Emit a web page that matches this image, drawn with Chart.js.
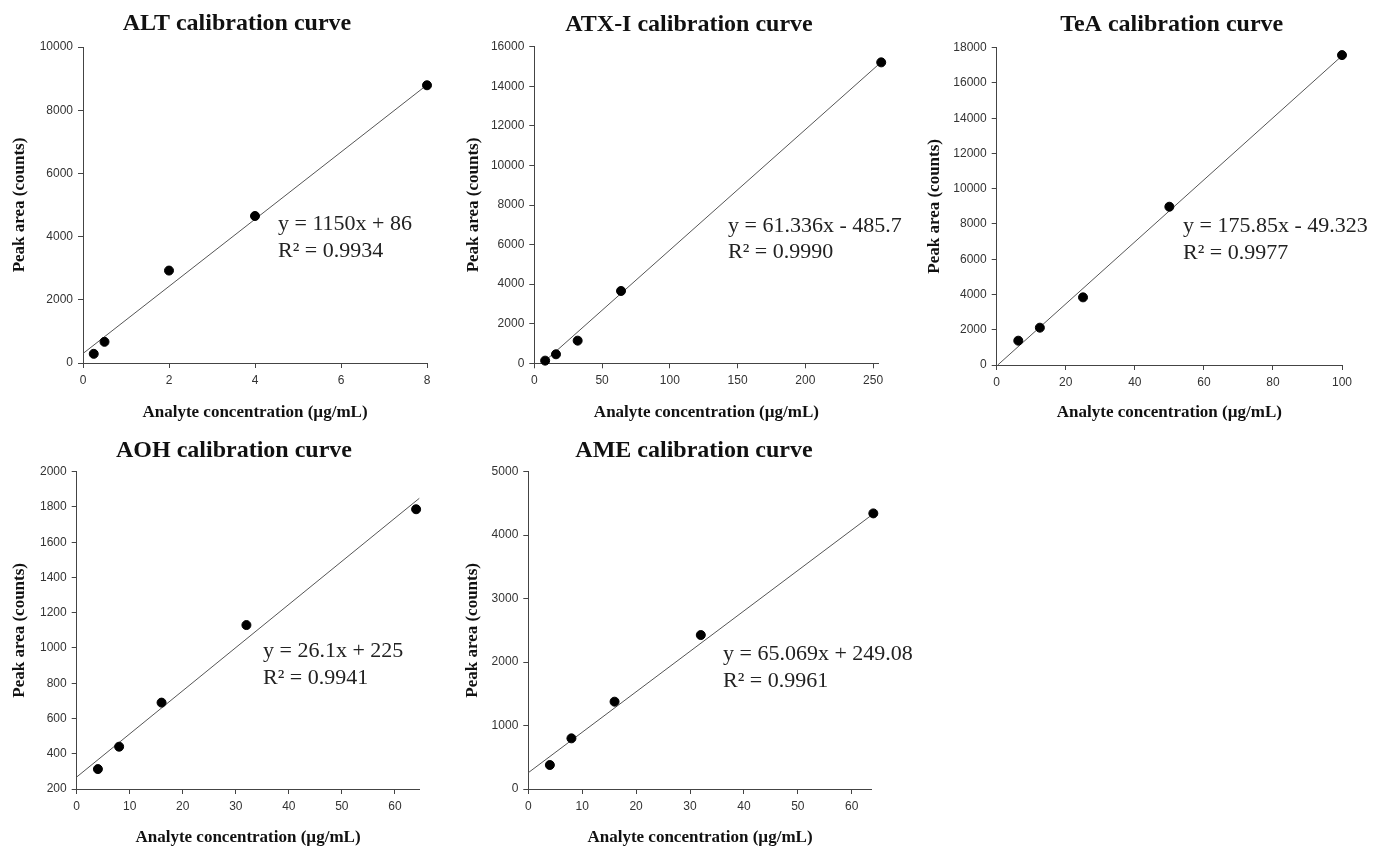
<!DOCTYPE html>
<html>
<head>
<meta charset="utf-8">
<title>Calibration curves</title>
<script src="https://cdn.jsdelivr.net/npm/chart.js@4.4.0/dist/chart.umd.min.js"></script>
<style>
  html, body { margin: 0; padding: 0; background: #fff; overflow: hidden; }
  body { width: 1375px; height: 846px; position: relative; }
  canvas { position: absolute; }
</style>
</head>
<body>
<canvas id="alt" width="455" height="425" style="left:0px;top:0px"></canvas>
<canvas id="atx" width="460" height="425" style="left:455px;top:0px"></canvas>
<canvas id="tea" width="460" height="425" style="left:915px;top:0px"></canvas>
<canvas id="aoh" width="455" height="425" style="left:0px;top:425px"></canvas>
<canvas id="ame" width="460" height="425" style="left:455px;top:425px"></canvas>
<script>
'use strict';

// ALT
const altConc = [0.25, 0.5, 2, 4, 8];
const altArea = [290, 670, 2925, 4652, 8789];
const altTrendX = [0, 8];
const altTrendY = [300, 8800];
const altXTicks = [0, 2, 4, 6, 8];
const altYTicks = [0, 2000, 4000, 6000, 8000, 10000];

// ATX-I
const atxConc = [8, 16, 32, 64, 256];
const atxArea = [135, 455, 1145, 3655, 15208];
const atxTrendX = [6, 256];
const atxTrendY = [0, 15220];
const atxXTicks = [0, 50, 100, 150, 200, 250];
const atxYTicks = [0, 2000, 4000, 6000, 8000, 10000, 12000, 14000, 16000];

// TeA
const teaConc = [6.25, 12.5, 25, 50, 100];
const teaArea = [1380, 2117, 3837, 8979, 17580];
const teaTrendX = [0.3, 100];
const teaTrendY = [0, 17540];
const teaXTicks = [0, 20, 40, 60, 80, 100];
const teaYTicks = [0, 2000, 4000, 6000, 8000, 10000, 12000, 14000, 16000, 18000];

// AOH
const aohConc = [4, 8, 16, 32, 64];
const aohArea = [313, 440, 690, 1130, 1787];
const aohTrendX = [0, 64.6];
const aohTrendY = [268, 1849];
const aohXTicks = [0, 10, 20, 30, 40, 50, 60];
const aohYTicks = [200, 400, 600, 800, 1000, 1200, 1400, 1600, 1800, 2000];

// AME
const ameConc = [4, 8, 16, 32, 64];
const ameArea = [378, 798, 1376, 2426, 4343];
const ameTrendX = [0, 63.7];
const ameTrendY = [257, 4317];
const ameXTicks = [0, 10, 20, 30, 40, 50, 60];
const ameYTicks = [0, 1000, 2000, 3000, 4000, 5000];

const xTitle = 'Analyte concentration (µg/mL)';
const yTitle = 'Peak area (counts)';

function pts(xs, ys) {
  return xs.map((x, i) => ({ x: x, y: ys[i] }));
}

// chart title and trendline equation, drawn onto the canvas
function curveText(t) {
  return {
    id: 'curveText',
    afterDraw(chart) {
      const ctx = chart.ctx;
      ctx.save();
      ctx.fillStyle = '#111';
      ctx.textBaseline = 'alphabetic';
      ctx.textAlign = 'center';
      ctx.font = 'bold 24px "Liberation Serif"';
      ctx.fillText(t.title, t.titleX, t.titleY);
      ctx.textAlign = 'left';
      ctx.font = '22px "Liberation Serif"';
      ctx.fillStyle = '#222';
      ctx.fillText(t.eq, t.eqX, t.eqY);
      ctx.fillText(t.r2, t.eqX, t.eqY + 26.5);
      ctx.restore();
    }
  };
}

function axis(min, max, ticks, title, titlePad) {
  return {
    type: 'linear',
    min: min,
    max: max,
    afterBuildTicks: s => { s.ticks = ticks.map(v => ({ value: v })); },
    grid: { drawOnChartArea: false, drawTicks: true, tickLength: 5, tickColor: '#444', color: '#444' },
    border: { display: true, color: '#444', width: 1 },
    ticks: {
      padding: 5,
      color: '#333',
      font: { family: 'Liberation Sans', size: 12 },
      callback: v => String(v)
    },
    title: {
      display: true,
      text: title,
      color: '#111',
      font: { family: 'Liberation Serif', size: 17, weight: 'bold' },
      padding: titlePad
    }
  };
}

function makeChart(c) {
  const canvas = document.getElementById(c.id);
  const W = canvas.width, H = canvas.height;
  const [pl, pt, pr, pb] = c.plot;
  const x = axis(c.xRange[0], c.xRange[1], c.xTicks, xTitle, { top: 0, bottom: 12 - 10.2 });
  x.afterFit = s => { s.height = H - pb; };
  const y = axis(c.yRange[0], c.yRange[1], c.yTicks, yTitle, { top: c.yTitleX - 10.2, bottom: 0 });
  y.afterFit = s => { s.width = pl; };

  new Chart(canvas.getContext('2d'), {
    type: 'scatter',
    data: {
      datasets: [{
        data: pts(c.conc, c.area),
        pointRadius: 4.5,
        pointHoverRadius: 4.5,
        backgroundColor: '#000',
        borderColor: '#000',
        clip: false
      }, {
        data: pts(c.trendX, c.trendY),
        showLine: true,
        pointRadius: 0,
        borderColor: '#555',
        borderWidth: 1,
        clip: false
      }]
    },
    options: {
      responsive: false,
      animation: false,
      layout: { autoPadding: false, padding: { left: 0, top: pt, right: W - pr, bottom: 0 } },
      scales: { x: x, y: y },
      plugins: { legend: { display: false }, tooltip: { enabled: false } },
      events: []
    },
    plugins: [curveText(c.text)]
  });
}

makeChart({
  id: 'alt', plot: [83, 47, 427, 363], yTitleX: 20,
  conc: altConc, area: altArea, trendX: altTrendX, trendY: altTrendY,
  xRange: [0, 8], yRange: [0, 10000], xTicks: altXTicks, yTicks: altYTicks,
  text: { title: 'ALT calibration curve', titleX: 237, titleY: 30,
          eq: 'y = 1150x + 86', r2: 'R² = 0.9934', eqX: 278, eqY: 230 }
});

makeChart({
  id: 'atx', plot: [79.3, 46.7, 423.5, 363.3], yTitleX: 18.3,
  conc: atxConc, area: atxArea, trendX: atxTrendX, trendY: atxTrendY,
  xRange: [0, 254], yRange: [0, 16000], xTicks: atxXTicks, yTicks: atxYTicks,
  text: { title: 'ATX-I calibration curve', titleX: 234, titleY: 30.5,
          eq: 'y = 61.336x - 485.7', r2: 'R² = 0.9990', eqX: 273, eqY: 231.5 }
});

makeChart({
  id: 'tea', plot: [81.7, 47.7, 427, 365], yTitleX: 20,
  conc: teaConc, area: teaArea, trendX: teaTrendX, trendY: teaTrendY,
  xRange: [0, 100], yRange: [0, 18000], xTicks: teaXTicks, yTicks: teaYTicks,
  text: { title: 'TeA calibration curve', titleX: 256.7, titleY: 31,
          eq: 'y = 175.85x - 49.323', r2: 'R² = 0.9977', eqX: 268, eqY: 232 }
});

makeChart({
  id: 'aoh', plot: [76.7, 46.7, 419.3, 364], yTitleX: 20,
  conc: aohConc, area: aohArea, trendX: aohTrendX, trendY: aohTrendY,
  xRange: [0, 64.6], yRange: [200, 2000], xTicks: aohXTicks, yTicks: aohYTicks,
  text: { title: 'AOH calibration curve', titleX: 234, titleY: 31.7,
          eq: 'y = 26.1x + 225', r2: 'R² = 0.9941', eqX: 263, eqY: 232.3 }
});

makeChart({
  id: 'ame', plot: [73.3, 46.7, 416.7, 364], yTitleX: 17.3,
  conc: ameConc, area: ameArea, trendX: ameTrendX, trendY: ameTrendY,
  xRange: [0, 63.7], yRange: [0, 5000], xTicks: ameXTicks, yTicks: ameYTicks,
  text: { title: 'AME calibration curve', titleX: 239, titleY: 32.3,
          eq: 'y = 65.069x + 249.08', r2: 'R² = 0.9961', eqX: 268, eqY: 235 }
});
</script>
</body>
</html>
